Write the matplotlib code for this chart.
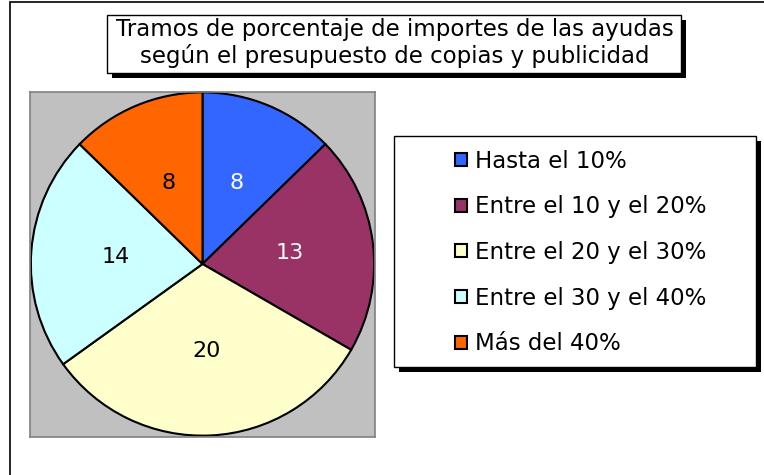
import matplotlib
matplotlib.use("Agg")
import matplotlib.pyplot as plt
from matplotlib.patches import Rectangle

categories = ["Hasta el 10%", "Entre el 10 y el 20%", "Entre el 20 y el 30%",
              "Entre el 30 y el 40%", "Más del 40%"]
values = [8, 13, 20, 14, 8]
colors = ["#3366FF", "#993366", "#FFFFCC", "#CCFFFF", "#FF6600"]
label_colors = ["white", "white", "black", "black", "black"]
title = "Tramos de porcentaje de importes de las ayudas\nsegún el presupuesto de copias y publicidad"

W, H = 764, 475
fig = plt.figure(figsize=(W / 100, H / 100), dpi=100)
plt.rcParams["font.family"] = ["DejaVu Sans"]


def box(x0, y0, x1, y1, **kw):
    # pixel coords, top-left origin
    r = Rectangle((x0 / W, 1 - y1 / H), (x1 - x0) / W, (y1 - y0) / H,
                  transform=fig.transFigure, **kw)
    fig.add_artist(r)
    return r


# outer chart border (runs off the right / bottom edge)
box(10, 2, 800, 520, facecolor="none", edgecolor="black", lw=1.2)

# plot area
ax = fig.add_axes([30 / W, 1 - 437 / H, 345 / W, 346 / H])
ax.set_facecolor("#C0C0C0")
for s in ax.spines.values():
    s.set_color("#808080")
    s.set_linewidth(1.2)

wedges, texts = ax.pie(values, colors=colors, startangle=90, counterclock=False,
                       labels=[str(v) for v in values], labeldistance=0.51,
                       wedgeprops=dict(edgecolor="black", linewidth=1.5),
                       textprops=dict(fontsize=16, ha="center", va="center"))
for t, c in zip(texts, label_colors):
    t.set_color(c)
ax.set_xlim(-1.005, 1.005)
ax.set_ylim(-1.005, 1.005)
ax.set_xticks([])
ax.set_yticks([])
ax.set_frame_on(True)

# title box with shadow
box(112, 20, 686, 78, facecolor="black", edgecolor="none", zorder=2)
box(107, 15, 681, 73, facecolor="white", edgecolor="black", lw=1, zorder=3)
fig.text(395 / W, 1 - 43 / H, title, ha="center", va="center", fontsize=16.5,
         linespacing=1.2, zorder=4)

# legend box with shadow
box(399, 141, 761, 372, facecolor="black", edgecolor="none", zorder=2)
box(394, 136, 756, 367, facecolor="white", edgecolor="black", lw=1, zorder=3)
leg = fig.legend(wedges, categories, loc="upper left",
                 bbox_to_anchor=(446 / W, 1 - 140.5 / H), frameon=False,
                 fontsize=16.5, handlelength=0.5, handleheight=0.5,
                 handletextpad=0.35, labelspacing=0.99, borderaxespad=0)
leg.set_zorder(5)

fig.savefig("out.png", dpi=100)
